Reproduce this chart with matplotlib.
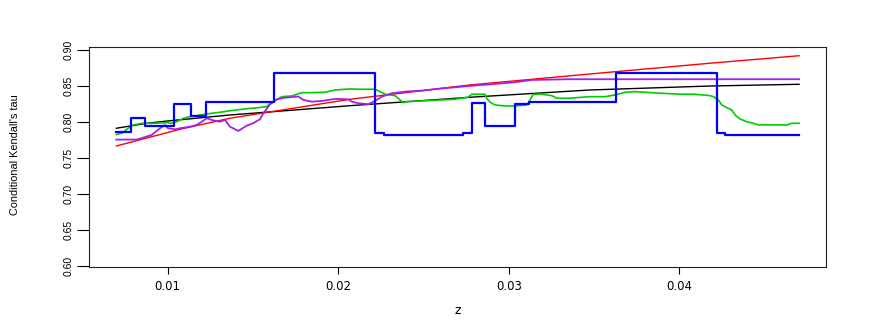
import matplotlib
matplotlib.use("Agg")
import matplotlib.pyplot as plt

# values
black_z = [0.0070, 0.00878, 0.0100, 0.01366, 0.02070, 0.02773, 0.03477, 0.04180, 0.04702]
black_tau = [0.7914, 0.7983, 0.8015, 0.8098, 0.8227, 0.8344, 0.8445, 0.8500, 0.8524]

red_z = [0.0070, 0.01073, 0.01366, 0.02070, 0.02773, 0.03477, 0.04180, 0.04702]
red_tau = [0.7668, 0.7900, 0.8053, 0.8316, 0.8515, 0.8667, 0.8816, 0.8920]

green_z = [0.0070, 0.00732, 0.00770, 0.00800, 0.00849, 0.00927, 0.00995, 0.01025, 0.01054,
           0.01093, 0.01132, 0.01171, 0.01220, 0.01259, 0.01308, 0.01356, 0.01406, 0.01454,
           0.01532, 0.01582, 0.01591, 0.01630, 0.01669, 0.01728, 0.01787, 0.01845, 0.01923,
           0.01982, 0.02070, 0.02119, 0.02216, 0.02246, 0.02275, 0.02334, 0.02363, 0.02382,
           0.02402, 0.02490, 0.02607, 0.02685, 0.02763, 0.02783, 0.02861, 0.02871, 0.02891,
           0.02920, 0.02978, 0.03037, 0.03106, 0.03125, 0.03144, 0.03194, 0.03252, 0.03282,
           0.03350, 0.03428, 0.03477, 0.03565, 0.03623, 0.03682, 0.03741, 0.03799, 0.03897,
           0.04014, 0.04092, 0.04180, 0.04200, 0.04229, 0.04249, 0.04278, 0.04307, 0.04327,
           0.04356, 0.04395, 0.04434, 0.04463, 0.04551, 0.04630, 0.04659, 0.04702]
green_tau = [0.7828, 0.7845, 0.7914, 0.7960, 0.7983, 0.7983, 0.7992, 0.7983, 0.8005,
             0.8053, 0.8075, 0.8089, 0.8108, 0.8122, 0.8136, 0.8154, 0.8168, 0.8182,
             0.8200, 0.8214, 0.8237, 0.8293, 0.8352, 0.8362, 0.8408, 0.8408, 0.8413,
             0.8445, 0.8459, 0.8455, 0.8455, 0.8422, 0.8386, 0.8366, 0.8307, 0.8269,
             0.8283, 0.8293, 0.8307, 0.8316, 0.8345, 0.8386, 0.8386, 0.8330, 0.8275,
             0.8237, 0.8223, 0.8223, 0.8237, 0.8307, 0.8386, 0.8386, 0.8366, 0.8330,
             0.8330, 0.8344, 0.8352, 0.8352, 0.8376, 0.8413, 0.8422, 0.8413, 0.8399,
             0.8386, 0.8386, 0.8366, 0.8352, 0.8307, 0.8237, 0.8200, 0.8168, 0.8098,
             0.8043, 0.8005, 0.7983, 0.7960, 0.7960, 0.7960, 0.7983, 0.7983]

purple_z = [0.0070, 0.00821, 0.00907, 0.00956, 0.00985, 0.01003, 0.01044, 0.01073, 0.01132,
            0.01171, 0.01201, 0.01230, 0.01259, 0.01308, 0.01337, 0.01366, 0.01415, 0.01464,
            0.01503, 0.01542, 0.01562, 0.01601, 0.01640, 0.01689, 0.01767, 0.01796, 0.01845,
            0.01904, 0.01982, 0.02060, 0.02080, 0.02119, 0.02177, 0.02216, 0.02256, 0.02314,
            0.02392, 0.02490, 0.02607, 0.02773, 0.03037, 0.03135, 0.03350, 0.04702]
purple_tau = [0.7757, 0.7757, 0.7821, 0.7914, 0.7960, 0.7914, 0.7900, 0.7914, 0.7936,
              0.7960, 0.8005, 0.8053, 0.8029, 0.8005, 0.8029, 0.7936, 0.7877, 0.7950,
              0.7985, 0.8039, 0.8122, 0.8247, 0.8316, 0.8338, 0.8355, 0.8307, 0.8283,
              0.8293, 0.8321, 0.8316, 0.8283, 0.8261, 0.8247, 0.8293, 0.8352, 0.8399,
              0.8422, 0.8436, 0.8466, 0.8501, 0.8552, 0.8584, 0.8594, 0.8594]

# blue is a step curve: level holds until the next break
blue_z = [0.0070, 0.00786, 0.00868, 0.01038, 0.01138, 0.01226, 0.01624, 0.02219, 0.02269,
          0.02732, 0.02782, 0.02861, 0.03037, 0.03119, 0.03629, 0.04218, 0.04268, 0.04702]
blue_tau = [0.7856, 0.8061, 0.7950, 0.8247, 0.8078, 0.8276, 0.8685, 0.7845, 0.7821,
            0.7845, 0.8269, 0.7950, 0.8247, 0.8275, 0.8685, 0.7845, 0.7821, 0.7821]

x_ticks = [0.01, 0.02, 0.03, 0.04]
y_ticks = [0.60, 0.65, 0.70, 0.75, 0.80, 0.85, 0.90]

SANS = ["Liberation Sans", "DejaVu Sans"]


def main():
    fig = plt.figure(figsize=(8.72, 3.27), dpi=100)
    ax = fig.add_axes([0.1021, 0.1826, 0.8452, 0.6728])

    ax.plot(black_z, black_tau, color="black", lw=1.0)
    ax.plot(red_z, red_tau, color="#FF0000", lw=1.0)
    ax.plot(green_z, green_tau, color="#00CD00", lw=1.2)
    ax.plot(purple_z, purple_tau, color="#A020F0", lw=1.3)
    ax.step(blue_z, blue_tau, where="post", color="#0000FF", lw=1.6)

    ax.set_xlim(0.0054, 0.0486)
    ax.set_ylim(0.5986, 0.9037)

    ax.set_xticks(x_ticks)
    ax.set_xticklabels(["%.2f" % v for v in x_ticks], family="DejaVu Sans", fontsize=8.5)
    ax.set_yticks(y_ticks)
    ax.set_yticklabels(["%.2f" % v for v in y_ticks], family=SANS, fontsize=7.5,
                       rotation=90, va="center")
    ax.tick_params(axis="x", length=5, width=0.8, pad=4)
    ax.tick_params(axis="y", length=8.5, width=0.8, pad=2.5)
    for s in ax.spines.values():
        s.set_linewidth(0.8)
        s.set_color("#222222")

    ax.set_xlabel("z", family="DejaVu Sans", fontsize=9, labelpad=8)
    fig.text(0.017, 0.527, "Conditional Kendall's tau", family=SANS, fontsize=7.8,
             rotation=90, ha="center", va="center")

    fig.savefig("out.png", dpi=100)
    plt.close(fig)


if __name__ == "__main__":
    main()
